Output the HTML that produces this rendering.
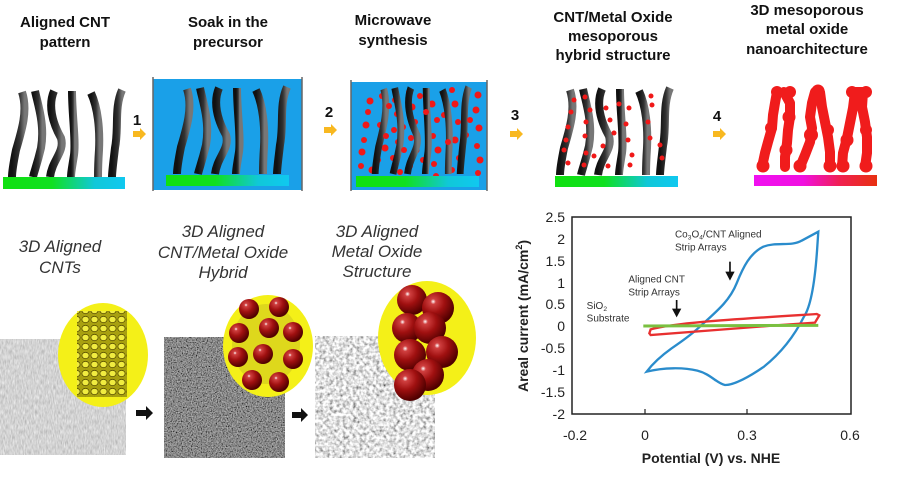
<!DOCTYPE html>
<html><head><meta charset="utf-8"><style>
html,body{margin:0;padding:0;background:#fff;width:902px;height:481px;overflow:hidden}
svg{display:block}
.t{font-family:"Liberation Sans",sans-serif;font-weight:bold;font-size:15px;fill:#111;text-anchor:middle}
.it{font-family:"Liberation Sans",sans-serif;font-style:italic;font-size:17px;fill:#333;text-anchor:middle}
.ax{font-family:"Liberation Sans",sans-serif;font-size:14px;fill:#222}
</style></head><body>
<svg width="902" height="481" viewBox="0 0 902 481" xmlns="http://www.w3.org/2000/svg">
<defs>
<linearGradient id="tg" x1="0" y1="0" x2="1" y2="0"><stop offset="0" stop-color="#111"/><stop offset="0.6" stop-color="#333"/><stop offset="1" stop-color="#777"/></linearGradient>
<linearGradient id="sub" x1="0" y1="0" x2="1" y2="0"><stop offset="0" stop-color="#10e010"/><stop offset="0.4" stop-color="#10e020"/><stop offset="0.75" stop-color="#10c8d8"/><stop offset="1" stop-color="#10c8f0"/></linearGradient>
<linearGradient id="sub2" x1="0" y1="0" x2="1" y2="0"><stop offset="0" stop-color="#f010f0"/><stop offset="0.4" stop-color="#f010e0"/><stop offset="0.7" stop-color="#f02050"/><stop offset="1" stop-color="#e83010"/></linearGradient>
<radialGradient id="ball" cx="0.35" cy="0.3" r="0.7"><stop offset="0" stop-color="#fff"/><stop offset="0.12" stop-color="#d04040"/><stop offset="0.5" stop-color="#a01010"/><stop offset="1" stop-color="#500000"/></radialGradient>
<pattern id="hex" width="9" height="9" patternUnits="userSpaceOnUse"><rect width="9" height="9" fill="#a8a010"/><ellipse cx="4.5" cy="4.5" rx="3.6" ry="3.2" fill="#f0ec40" stroke="#5a5000" stroke-width="0.8"/></pattern>
<filter id="n1" x="0" y="0" width="1" height="1"><feTurbulence type="fractalNoise" baseFrequency="0.9 0.2" numOctaves="2" seed="3"/><feColorMatrix type="saturate" values="0"/><feComponentTransfer><feFuncR type="linear" slope="0.7" intercept="0.3"/><feFuncG type="linear" slope="0.7" intercept="0.3"/><feFuncB type="linear" slope="0.7" intercept="0.3"/><feFuncA type="linear" slope="0" intercept="1"/></feComponentTransfer></filter>
<filter id="n2" x="0" y="0" width="1" height="1"><feTurbulence type="fractalNoise" baseFrequency="0.8" numOctaves="2" seed="5"/><feColorMatrix type="saturate" values="0"/><feComponentTransfer><feFuncR type="linear" slope="1.1" intercept="-0.3"/><feFuncG type="linear" slope="1.1" intercept="-0.3"/><feFuncB type="linear" slope="1.1" intercept="-0.3"/><feFuncA type="linear" slope="0" intercept="1"/></feComponentTransfer></filter>
<filter id="n3" x="0" y="0" width="1" height="1"><feTurbulence type="fractalNoise" baseFrequency="0.3" numOctaves="2" seed="8"/><feColorMatrix type="saturate" values="0"/><feComponentTransfer><feFuncR type="linear" slope="2.2" intercept="-0.35"/><feFuncG type="linear" slope="2.2" intercept="-0.35"/><feFuncB type="linear" slope="2.2" intercept="-0.35"/><feFuncA type="linear" slope="0" intercept="1"/></feComponentTransfer></filter>
<g id="tubes" fill="none" stroke="url(#tg)" stroke-width="8">
<path d="M22,92 C28,110 22,130 16,150 C13,165 12,172 12,177"/>
<path d="M35,91 C38,105 45,125 41,148 C37,165 34,172 33,177"/>
<path d="M54,91 C48,105 52,122 61,138 C65,152 52,160 50,177"/>
<path d="M72,91 C72,115 76,140 74,155 C72,168 71,172 71,177"/>
<path d="M91,93 C98,108 100,130 99,150 C98,165 98,172 98,177"/>
<path d="M122,90 C114,108 119,128 115,148 C113,165 112,172 112,177"/>
</g>
<polygon id="ya" points="0,-3 7,-3 7,-6 13,0 7,6 7,3 0,3" fill="#f8b820"/>
</defs>

<text class="t" x="65" y="27">Aligned CNT</text><text class="t" x="65" y="47">pattern</text>
<text class="t" x="228" y="27">Soak in the</text><text class="t" x="228" y="47">precursor</text>
<text class="t" x="393" y="25">Microwave</text><text class="t" x="393" y="45">synthesis</text>
<text class="t" x="613" y="22">CNT/Metal Oxide</text><text class="t" x="613" y="41">mesoporous</text><text class="t" x="613" y="60">hybrid structure</text>
<text class="t" x="807" y="15">3D mesoporous</text><text class="t" x="807" y="34">metal oxide</text><text class="t" x="807" y="54">nanoarchitecture</text>

<use href="#tubes"/>
<rect x="3" y="177" width="122" height="12" fill="url(#sub)"/>
<text class="t" x="137" y="125" font-size="13">1</text><use href="#ya" x="133" y="134"/>

<rect x="153" y="79" width="149" height="111" fill="#1aa0e8"/>
<line x1="153" y1="77" x2="153" y2="191" stroke="#666" stroke-width="1.5"/><line x1="302" y1="77" x2="302" y2="191" stroke="#666" stroke-width="1.5"/>
<use href="#tubes" transform="translate(165,-3)"/>
<rect x="166" y="175" width="123" height="11" fill="url(#sub)"/>
<text class="t" x="329" y="117" font-size="13">2</text><use href="#ya" x="324" y="130"/>

<rect x="351" y="82" width="136" height="108" fill="#1aa0e8"/>
<line x1="351" y1="80" x2="351" y2="191" stroke="#666" stroke-width="1.5"/><line x1="487" y1="80" x2="487" y2="191" stroke="#666" stroke-width="1.5"/>
<g fill="#f01818">
<circle cx="370" cy="101" r="3.5"/><circle cx="368" cy="112" r="3"/><circle cx="366" cy="125" r="3.5"/><circle cx="364" cy="140" r="3"/><circle cx="362" cy="152" r="3.5"/><circle cx="361" cy="166" r="3"/><circle cx="372" cy="170" r="3.5"/>
<circle cx="382" cy="96" r="3"/><circle cx="380" cy="125" r="3"/><circle cx="385" cy="148" r="3.5"/><circle cx="378" cy="160" r="3"/>
<circle cx="395" cy="100" r="3"/><circle cx="397" cy="114" r="3"/><circle cx="394" cy="130" r="3"/><circle cx="398" cy="142" r="3"/><circle cx="393" cy="158" r="3"/><circle cx="400" cy="172" r="3"/>
<circle cx="409" cy="92" r="3"/><circle cx="412" cy="107" r="3.5"/><circle cx="415" cy="122" r="3"/><circle cx="411" cy="138" r="3"/><circle cx="416" cy="150" r="3.5"/><circle cx="410" cy="166" r="3"/>
<circle cx="420" cy="96" r="3"/><circle cx="432" cy="104" r="3.5"/><circle cx="437" cy="120" r="3"/><circle cx="433" cy="136" r="3"/><circle cx="438" cy="150" r="3.5"/><circle cx="434" cy="164" r="3"/><circle cx="436" cy="176" r="3"/>
<circle cx="452" cy="90" r="3"/><circle cx="455" cy="104" r="3.5"/><circle cx="458" cy="122" r="3"/><circle cx="455" cy="140" r="3.5"/><circle cx="459" cy="158" r="3"/><circle cx="452" cy="170" r="3"/>
<circle cx="478" cy="95" r="3.5"/><circle cx="476" cy="110" r="3.5"/><circle cx="479" cy="128" r="3.5"/><circle cx="477" cy="146" r="3"/><circle cx="480" cy="160" r="3.5"/><circle cx="478" cy="173" r="3"/>
<circle cx="444" cy="115" r="3"/><circle cx="423" cy="160" r="3"/><circle cx="403" cy="127" r="3"/><circle cx="466" cy="135" r="3"/>
</g>
<use href="#tubes" transform="translate(365,-3) scale(0.85,1)"/>
<g fill="#f01818">
<circle cx="386" cy="136" r="3"/><circle cx="404" cy="150" r="3"/><circle cx="426" cy="112" r="3"/><circle cx="448" cy="142" r="3"/><circle cx="470" cy="120" r="3"/><circle cx="389" cy="106" r="3"/>
</g>
<rect x="356" y="176" width="123" height="11" fill="url(#sub)"/>
<text class="t" x="515" y="120" font-size="13">3</text><use href="#ya" x="510" y="134"/>

<use href="#tubes" transform="translate(548,-2)"/>
<g fill="#f01818">
<circle cx="574" cy="100" r="2.5"/><circle cx="571" cy="112" r="2.5"/><circle cx="568" cy="127" r="2.5"/><circle cx="566" cy="140" r="2.5"/><circle cx="564" cy="150" r="2.5"/><circle cx="568" cy="163" r="2.5"/>
<circle cx="585" cy="97" r="2.5"/><circle cx="590" cy="110" r="2.5"/><circle cx="586" cy="122" r="2.5"/><circle cx="585" cy="136" r="2.5"/><circle cx="586" cy="153" r="2.5"/><circle cx="584" cy="165" r="2.5"/>
<circle cx="606" cy="108" r="2.5"/><circle cx="610" cy="120" r="2.5"/><circle cx="614" cy="133" r="2.5"/><circle cx="603" cy="146" r="2.5"/><circle cx="594" cy="156" r="2.5"/><circle cx="608" cy="166" r="2.5"/>
<circle cx="619" cy="104" r="2.5"/><circle cx="629" cy="108" r="2.5"/><circle cx="626" cy="124" r="2.5"/><circle cx="628" cy="140" r="2.5"/><circle cx="632" cy="155" r="2.5"/><circle cx="630" cy="165" r="2.5"/>
<circle cx="651" cy="96" r="2.5"/><circle cx="652" cy="105" r="2.5"/><circle cx="648" cy="122" r="2.5"/><circle cx="650" cy="138" r="2.5"/><circle cx="660" cy="145" r="2.5"/><circle cx="662" cy="158" r="2.5"/>
</g>
<rect x="555" y="176" width="123" height="11" fill="url(#sub)"/>
<text class="t" x="717" y="121" font-size="13">4</text><use href="#ya" x="713" y="134"/>

<g fill="none" stroke="#f01c1c" stroke-width="10" stroke-linecap="round" stroke-linejoin="round">
<polyline points="777,92 775,103 773,115 772,128 768,142 765,153 762,167"/>
<polyline points="784,92 790,103 790,117 788,130 787,143 785,157 785,167"/>
<polyline points="800,167 805,155 810,142 812,128 810,117 812,103 815,92 820,92 822,107 825,122 828,137 830,152 830,167"/>
<polyline points="842,167 843,153 847,138 850,123 853,108 855,92 863,92 862,107 865,122 867,137 867,153 865,167"/>
</g>
<g fill="#f01c1c">
<circle cx="777" cy="92" r="6"/><circle cx="790" cy="92" r="6"/><circle cx="771" cy="128" r="6"/><circle cx="763" cy="166" r="6.5"/><circle cx="789" cy="117" r="6.5"/><circle cx="786" cy="150" r="6.5"/>
<circle cx="818" cy="91" r="6.5"/><circle cx="811" cy="135" r="7"/><circle cx="800" cy="166" r="6.5"/><circle cx="828" cy="130" r="6"/><circle cx="830" cy="166" r="6.5"/>
<circle cx="852" cy="92" r="6"/><circle cx="866" cy="92" r="6"/><circle cx="847" cy="140" r="6.5"/><circle cx="843" cy="166" r="6.5"/><circle cx="866" cy="130" r="6"/><circle cx="866" cy="166" r="6.5"/>
</g>
<rect x="754" y="175" width="123" height="11" fill="url(#sub2)"/>

<text class="it" x="60" y="252">3D Aligned</text><text class="it" x="60" y="273">CNTs</text>
<text class="it" x="223" y="237">3D Aligned</text><text class="it" x="223" y="258">CNT/Metal Oxide</text><text class="it" x="223" y="278">Hybrid</text>
<text class="it" x="377" y="237">3D Aligned</text><text class="it" x="377" y="257">Metal Oxide</text><text class="it" x="377" y="277">Structure</text>

<rect x="0" y="339" width="126" height="116" fill="#a0a0a0" filter="url(#n1)"/>
<ellipse cx="103" cy="355" rx="45" ry="52" fill="#f4f018"/>
<rect x="77" y="311" width="50" height="86" fill="url(#hex)"/>
<polygon points="136,410 146,410 146,406 153,413 146,420 146,416 136,416" fill="#111"/>

<rect x="164" y="337" width="121" height="121" fill="#555" filter="url(#n2)"/>
<ellipse cx="268" cy="346" rx="45" ry="51" fill="#f4f018"/>
<ellipse cx="266" cy="344" rx="34" ry="40" fill="#c8c020" opacity="0.5"/>
<g fill="url(#ball)">
<circle cx="249" cy="309" r="10"/><circle cx="279" cy="307" r="10"/><circle cx="239" cy="333" r="10"/><circle cx="269" cy="328" r="10"/><circle cx="293" cy="332" r="10"/><circle cx="238" cy="357" r="10"/><circle cx="263" cy="354" r="10"/><circle cx="293" cy="359" r="10"/><circle cx="252" cy="380" r="10"/><circle cx="279" cy="382" r="10"/>
</g>
<polygon points="292,412 301,412 301,408 308,415 301,422 301,418 292,418" fill="#111"/>

<rect x="315" y="336" width="120" height="122" fill="#bbb" filter="url(#n3)"/>
<ellipse cx="427" cy="338" rx="49" ry="57" fill="#f4f018"/>
<g fill="url(#ball)">
<circle cx="412" cy="300" r="15"/><circle cx="438" cy="308" r="16"/><circle cx="407" cy="328" r="15"/><circle cx="430" cy="328" r="16"/><circle cx="442" cy="352" r="16"/><circle cx="410" cy="355" r="16"/><circle cx="428" cy="375" r="16"/><circle cx="410" cy="385" r="16"/>
</g>

<rect x="572" y="217" width="279" height="197" fill="#fff" stroke="#222" stroke-width="1.5"/>
<g stroke="#222" stroke-width="1.2">
<line x1="645" y1="414" x2="645" y2="409"/><line x1="747" y1="414" x2="747" y2="409"/>
</g>
<g class="ax" text-anchor="end">
<text x="565" y="222">2.5</text><text x="565" y="244">2</text><text x="565" y="266">1.5</text><text x="565" y="288">1</text><text x="565" y="309">0.5</text><text x="565" y="331">0</text><text x="565" y="353">-0.5</text><text x="565" y="375">-1</text><text x="565" y="397">-1.5</text><text x="565" y="419">-2</text>
</g>
<g class="ax" text-anchor="middle">
<text x="575" y="440">-0.2</text><text x="645" y="440">0</text><text x="747" y="440">0.3</text><text x="850" y="440">0.6</text>
</g>
<text class="ax" x="711" y="463" text-anchor="middle" font-weight="bold" font-size="15">Potential (V) vs. NHE</text>
<text class="ax" transform="translate(528,316) rotate(-90)" text-anchor="middle" font-weight="bold" font-size="15">Areal current (mA/cm<tspan font-size="9" dy="-6">2</tspan><tspan dy="6">)</tspan></text>
<g transform="translate(490,200) scale(0.3333)">
<path d="M470,515 C485,495 510,470 545,445 C585,418 615,395 635,375 C685,330 720,300 740,250 C760,200 780,160 820,140 C860,125 905,140 935,122 L985,95 L982,140 C975,250 962,320 942,350 C912,410 872,460 822,500 C782,528 732,556 705,555 C680,550 662,522 622,512 C582,502 522,502 470,515 Z" fill="none" stroke="#2a8ccc" stroke-width="7"/>
<path d="M478,400 L482,388 C560,368 700,360 980,342 L988,346 L975,368 C800,380 600,395 482,405 Z" fill="none" stroke="#e83030" stroke-width="7"/>
<line x1="460" y1="378" x2="985" y2="376" stroke="#7ac040" stroke-width="9"/>
<g font-family="Liberation Sans, sans-serif" font-size="30" fill="#333">
<text x="555" y="112">Co<tspan font-size="20" dy="6">3</tspan><tspan dy="-6">O</tspan><tspan font-size="20" dy="6">4</tspan><tspan dy="-6">/CNT Aligned</tspan></text>
<text x="555" y="152">Strip Arrays</text>
<text x="415" y="247">Aligned CNT</text><text x="415" y="287">Strip Arrays</text>
<text x="290" y="327">SiO<tspan font-size="20" dy="6">2</tspan></text><text x="290" y="365">Substrate</text>
</g>
<g fill="#111" stroke="#111" stroke-width="5">
<line x1="720" y1="185" x2="720" y2="220"/><polygon points="706,215 734,215 720,242" stroke="none"/>
<line x1="560" y1="300" x2="560" y2="330"/><polygon points="546,326 574,326 560,352" stroke="none"/>
</g>
</g>
</svg>
</body></html>
